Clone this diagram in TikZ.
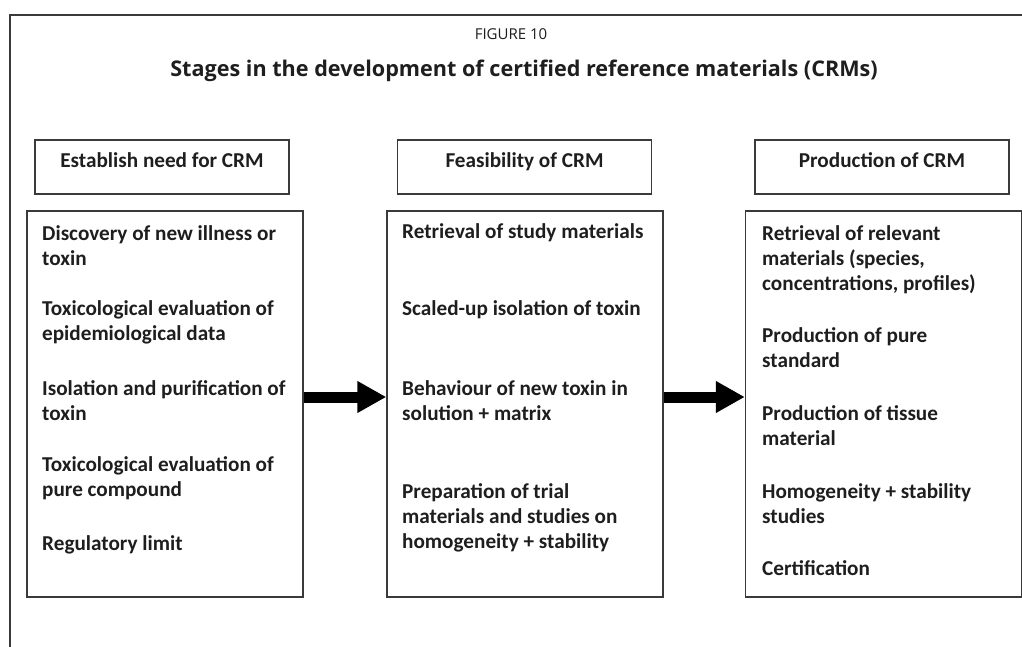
\documentclass[tikz,border=0pt]{standalone}
\usepackage{fontspec}
\setmainfont{Carlito}
\newfontfamily\titlefont{Open Sans}
\usetikzlibrary{arrows.meta}

\definecolor{inkgray}{HTML}{3A3A3A}
\definecolor{textblack}{HTML}{1E1E1E}

\tikzset{
  headbox/.style={draw=inkgray, line width=1.5pt, minimum width=254pt, minimum height=54pt, inner sep=0pt},
  stagebox/.style={draw=inkgray, line width=1.5pt, minimum width=276pt, minimum height=386pt, inner sep=0pt},
  headtext/.style={anchor=base, inner sep=0pt, text=textblack, font=\bfseries\fontsize{21.2}{25}\selectfont},
  % multi-line items sit on the baseline of their last line
  item/.style={anchor=base west, align=left, inner sep=0pt, text=textblack, font=\bfseries\fontsize{21.2}{25}\selectfont},
  fatarrow/.style={-{Triangle[length=29pt,width=30pt]}, line width=11pt, black}
}

\begin{document}
\begin{tikzpicture}[x=1pt,y=-1pt]
\useasboundingbox (0,0) rectangle (1022,647);
% frame and caption
\draw[inkgray, line width=1.2pt] (1022,15) -- (10,15) -- (10,647);
\node[anchor=base, inner sep=0pt, text=textblack, font=\titlefont\fontsize{15}{18}\selectfont] (fignum) at (511,40) {FIGURE 10};
\node[anchor=base, inner sep=0pt, text=textblack, font=\titlefont\bfseries\fontsize{21.6}{25}\selectfont] (caption) at (524,77) {Stages in the development of certified reference materials (CRMs)};

% stage headings
\node[headbox] (needhead) at (162,167) {};
\node[headbox] (feashead) at (524.5,167) {};
\node[headbox] (prodhead) at (882,167) {};
\node[headtext] (needlbl) at (162,168) {Establish need for CRM};
\node[headtext] (feaslbl) at (524.5,168) {Feasibility of CRM};
\node[headtext] (prodlbl) at (882,168) {Production of CRM};

% stage boxes
\node[stagebox] (needbox) at (165,404) {};
\node[stagebox] (feasbox) at (525,404) {};
\node[stagebox] (prodbox) at (883.5,404) {};

% establish need
\node[item] (need1) at (42,265) {Discovery of new illness or\\toxin};
\node[item] (need2) at (42,340) {Toxicological evaluation of\\epidemiological data};
\node[item] (need3) at (42,420) {Isolation and purification of\\toxin};
\node[item] (need4) at (42,496) {Toxicological evaluation of\\pure compound};
\node[item] (need5) at (42,550) {Regulatory limit};

% feasibility
\node[item] (feas1) at (402,238) {Retrieval of study materials};
\node[item] (feas2) at (402,315) {Scaled-up isolation of toxin};
\node[item] (feas3) at (402,420) {Behaviour of new toxin in\\solution + matrix};
\node[item] (feas4) at (402,548) {Preparation of trial\\materials and studies on\\homogeneity + stability};

% production
\node[item] (prod1) at (762,290) {Retrieval of relevant\\materials (species,\\concentrations, profiles)};
\node[item] (prod2) at (762,367) {Production of pure\\standard};
\node[item] (prod3) at (762,445) {Production of tissue\\material};
\node[item] (prod4) at (762,523) {Homogeneity + stability\\studies};
\node[item] (prod5) at (762,575) {Certification};

% arrows between stages
\draw[fatarrow] (needbox.east |- 0,397) -- (feasbox.west |- 0,397);
\draw[fatarrow] (feasbox.east |- 0,397) -- (prodbox.west |- 0,397);
\end{tikzpicture}
\end{document}
